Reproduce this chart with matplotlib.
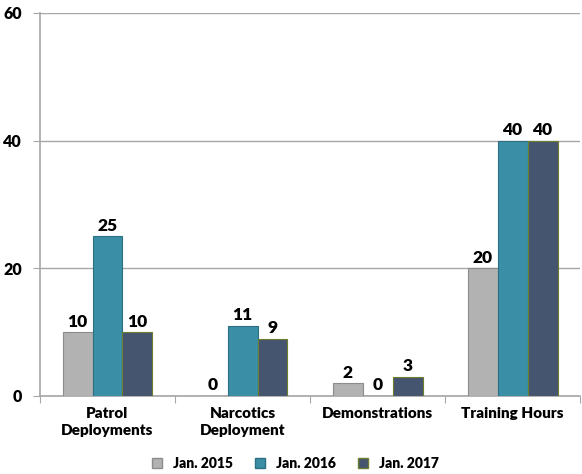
import numpy as np
import matplotlib.pyplot as plt
from matplotlib.lines import Line2D

categories = ['Patrol\nDeployments', 'Narcotics\nDeployment', 'Demonstrations', 'Training Hours']
series_names = ['Jan. 2015', 'Jan. 2016', 'Jan. 2017']
jan2015 = [10, 0, 2, 20]
jan2016 = [25, 11, 0, 40]
jan2017 = [10, 9, 3, 40]
yticks = [0, 20, 40, 60]

colors = ['#b2b2b2', '#3a8ea6', '#45546f']
edges = ['#8c8c8c', '#2c6f82', '#6b7f2e']

plt.rcParams['font.family'] = ['Lato', 'DejaVu Sans']
plt.rcParams['font.weight'] = 'heavy'

fig = plt.figure(figsize=(5.82, 4.74), dpi=100)
ax = fig.add_axes([0.0687, 0.1646, 0.928, 0.808])

x = np.arange(len(categories))
w = 0.222
data = [jan2015, jan2016, jan2017]
for i, vals in enumerate(data):
    pos = x + (i - 1) * w
    ax.bar(pos, vals, width=w, color=colors[i], edgecolor=edges[i], linewidth=0.8, zorder=3)
    for p, v in zip(pos, vals):
        ax.text(p, v + 0.4, str(v), ha='center', va='bottom', fontsize=12.5, fontweight='heavy', zorder=4)

ax.set_xlim(-0.5, len(categories) - 0.5)
ax.set_ylim(0, 60)
ax.set_yticks(yticks)
ax.set_yticklabels([str(t) for t in yticks], fontsize=11.5, fontweight='heavy')
ax.yaxis.grid(True, color='#a6a6a6', linewidth=1, zorder=0)
ax.tick_params(axis='y', length=5, color='#a6a6a6', pad=8)

ax.set_xticks(np.arange(-0.5, len(categories), 1))
ax.set_xticklabels([])
ax.set_xticks(x, minor=True)
ax.set_xticklabels(categories, minor=True, fontsize=11, fontweight='heavy', linespacing=1.35)
ax.tick_params(axis='x', which='major', length=5, color='#a6a6a6', direction='out')
ax.tick_params(axis='x', which='minor', length=0, pad=8)

for s in ['top', 'right']:
    ax.spines[s].set_visible(False)
for s in ['left', 'bottom']:
    ax.spines[s].set_color('#a6a6a6')
    ax.spines[s].set_linewidth(1.2)

handles = [Line2D([], [], marker='s', linestyle='none', markersize=7,
                  markerfacecolor=colors[i], markeredgecolor=edges[i]) for i in range(3)]
fig.legend(handles, series_names, loc='center', bbox_to_anchor=(0.5, 0.022), ncol=3,
           frameon=False, handletextpad=0.1, columnspacing=1.0,
           prop={'weight': 'heavy', 'size': 10})

fig.savefig('out.png', dpi=100)
